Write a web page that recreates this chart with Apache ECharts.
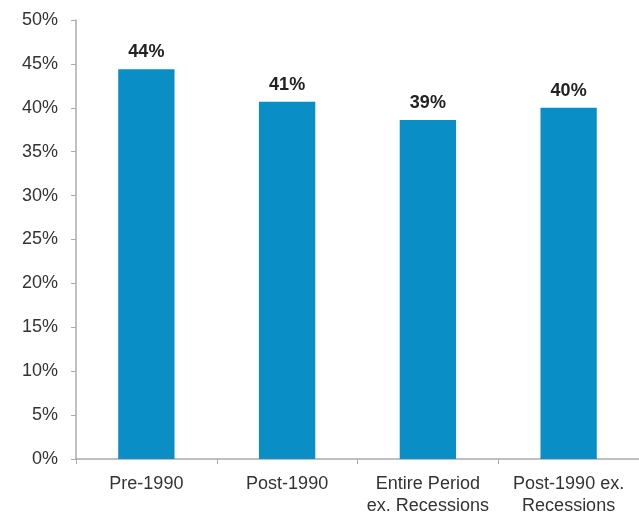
<!DOCTYPE html>
<html>
<head>
<meta charset="utf-8">
<script src="https://cdn.jsdelivr.net/npm/echarts@6/dist/echarts.min.js"></script>
<style>
  html, body { margin: 0; padding: 0; background: #fff; }
  #chart { width: 639px; height: 517px; }
</style>
</head>
<body>
<div id="chart"></div>
<script>
// 类目与数值（百分比）
const categories = ['Pre-1990', 'Post-1990', 'Entire Period\nex. Recessions', 'Post-1990 ex.\nRecessions']
const values = [44.4, 40.7, 38.6, 40.0]
const yTicks = [0, 5, 10, 15, 20, 25, 30, 35, 40, 45, 50]

const chart = echarts.init(document.getElementById('chart'))
const textColor = '#333'
const font = 'Liberation Sans, Arial, sans-serif'

chart.setOption({
  animation: false,
  grid: { left: 76, right: 0, top: 20, bottom: 57 },
  xAxis: {
    type: 'category',
    data: categories,
    axisLine: { lineStyle: { color: '#aaa', width: 1.5 } },
    axisTick: { show: true, length: 5, lineStyle: { color: '#aaa' } },
    axisLabel: { interval: 0, color: textColor, fontSize: 18, fontFamily: font, margin: 14, lineHeight: 22 }
  },
  yAxis: {
    type: 'value',
    min: yTicks[0],
    max: yTicks[yTicks.length - 1],
    interval: 5,
    axisLine: { show: true, lineStyle: { color: '#aaa', width: 1.5 } },
    axisTick: { show: true, length: 5, lineStyle: { color: '#aaa' } },
    splitLine: { show: false },
    axisLabel: { color: textColor, fontSize: 18, fontFamily: font, margin: 18, formatter: v => v + '%' }
  },
  series: [{
    type: 'bar',
    data: values,
    barWidth: '40%',
    itemStyle: { color: '#0a8ec6' },
    label: {
      show: true,
      position: 'top',
      distance: 8,
      color: '#222',
      fontSize: 18,
      fontWeight: 'bold',
      fontFamily: font,
      formatter: p => Math.round(p.value) + '%'
    }
  }]
})
</script>
</body>
</html>
